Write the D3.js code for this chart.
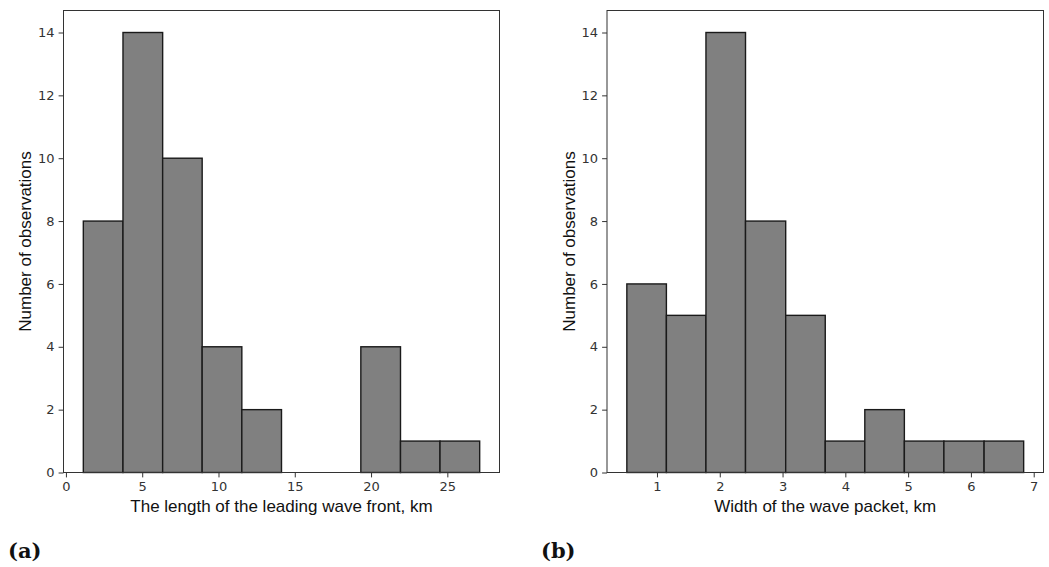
<!DOCTYPE html>
<html><head><meta charset="utf-8">
<script src="https://cdn.jsdelivr.net/npm/d3@7"></script>
<style>body{margin:0;background:#fff}svg{display:block}</style>
</head><body>
<svg id="c" width="1049" height="567"></svg>
<script>
// Panel (a): length of the leading wave front
const edgesA = [1.14, 3.74, 6.34, 8.93, 11.53, 14.13, 16.73, 19.33, 21.93, 24.52, 27.12];
const countsA = [8, 14, 10, 4, 2, 0, 0, 4, 1, 1];
const xTicksA = [0, 5, 10, 15, 20, 25];
// Panel (b): width of the wave packet
const edgesB = [0.52, 1.15, 1.78, 2.41, 3.05, 3.68, 4.31, 4.94, 5.57, 6.21, 6.84];
const countsB = [6, 5, 14, 8, 5, 1, 2, 1, 1, 1];
const xTicksB = [1, 2, 3, 4, 5, 6, 7];
const yTicks = [0, 2, 4, 6, 8, 10, 12, 14];
const xLabels = ["The length of the leading wave front, km", "Width of the wave packet, km"];
const yLabel = "Number of observations";
const panelLabels = ["(a)", "(b)"];

const svg = d3.select("#c");
const panels = [
  {edges: edgesA, counts: countsA, ticks: xTicksA, x0: 63.5, x1: 499.5, xl: xLabels[0], pl: panelLabels[0], plx: 8},
  {edges: edgesB, counts: countsB, ticks: xTicksB, x0: 607, x1: 1043.5, xl: xLabels[1], pl: panelLabels[1], plx: 541}
];
const plotTop = 10.5, plotBottom = 472.5;

panels.forEach(p => {
  const lo = p.edges[0], hi = p.edges[p.edges.length - 1];
  const m = (hi - lo) * 0.05;
  const x = d3.scaleLinear().domain([lo - m, hi + m]).range([p.x0, p.x1]);
  const ymax = d3.max(p.counts) * 1.05;
  const y = d3.scaleLinear().domain([0, ymax]).range([plotBottom, plotTop]);
  const g = svg.append("g");

  const bins = p.counts.map((c, i) => ({x0: p.edges[i], x1: p.edges[i + 1], c}));
  g.selectAll("rect.bar").data(bins.filter(b => b.c > 0)).join("rect")
    .attr("class", "bar")
    .attr("x", d => x(d.x0)).attr("width", d => x(d.x1) - x(d.x0))
    .attr("y", d => y(d.c)).attr("height", d => y(0) - y(d.c))
    .attr("fill", "#808080").attr("stroke", "#1a1a1a").attr("stroke-width", 1.4);

  // frame
  g.append("rect").attr("x", p.x0).attr("y", plotTop).attr("width", p.x1 - p.x0).attr("height", plotBottom - plotTop)
    .attr("fill", "none").attr("stroke", "#333").attr("stroke-width", 1);

  const xa = g.append("g").attr("transform", `translate(0,${plotBottom})`)
    .call(d3.axisBottom(x).tickValues(p.ticks).tickSize(4.9).tickPadding(4).tickFormat(d3.format("d")));
  const ya = g.append("g").attr("transform", `translate(${p.x0},0)`)
    .call(d3.axisLeft(y).tickValues(yTicks).tickSize(4.9).tickPadding(4).tickFormat(d3.format("d")));
  [xa, ya].forEach(a => {
    a.select(".domain").remove();
    a.selectAll("line").attr("stroke", "#333");
    a.selectAll("text").attr("fill", "#333").style("font-family", "DejaVu Sans").style("font-size", "13px");
  });

  g.append("text").attr("x", (p.x0 + p.x1) / 2).attr("y", 512)
    .attr("text-anchor", "middle").style("font-family", "Liberation Sans, Arial").style("font-size", "17px")
    .attr("fill", "#111").text(p.xl);
  g.append("text").attr("transform", `translate(${p.x0 - 32.5},${(plotTop + plotBottom) / 2}) rotate(-90)`)
    .attr("text-anchor", "middle").style("font-family", "Liberation Sans, Arial").style("font-size", "17px")
    .attr("fill", "#111").text(yLabel);
  g.append("text").attr("x", p.plx).attr("y", 558)
    .style("font-family", "DejaVu Serif").style("font-weight", "bold").style("font-size", "21px")
    .attr("fill", "#111").text(p.pl);
});
</script>
</body></html>
